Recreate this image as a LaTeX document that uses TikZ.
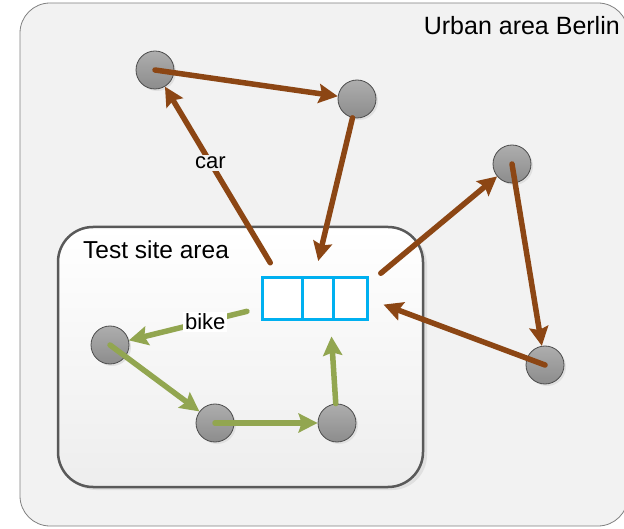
\documentclass[tikz,border=0pt]{standalone}
\usepackage{fontspec}
\setmainfont{Liberation Sans}
\usepackage{tikz}
\usetikzlibrary{arrows.meta,shadows}

\definecolor{carbrown}{RGB}{140,70,20}
\definecolor{bikegreen}{RGB}{146,166,80}
\definecolor{hubblue}{RGB}{0,176,240}
\definecolor{areagray}{RGB}{242,242,242}

\begin{document}
\begin{tikzpicture}[
      x=1pt, y=-1pt,
      place/.style={circle, minimum size=38pt, inner sep=0pt, draw=black!70, line width=0.8pt,
                    top color=black!32, bottom color=black!45, drop shadow={shadow xshift=2pt, shadow yshift=-2pt, fill=black!12, opacity=1}},  % grey stops
      trip/.style={line width=5.5pt, line cap=round, -{Stealth[length=19pt,width=19pt,inset=3pt]}},
      car/.style={trip, draw=carbrown, fill=carbrown},
      bike/.style={trip, draw=bikegreen, fill=bikegreen},
      tag/.style={font=\fontsize{22}{24}\selectfont, inner sep=2pt}
    ]
    \useasboundingbox (0,0) rectangle (624,529);
    % urban area
    \begin{scope}
        \clip (0,0) rectangle (624,529);
        \draw[black!50, fill=areagray, line width=0.8pt, rounded corners=30pt] (20,3) rectangle (628,526);
    \end{scope}
    \node[anchor=base east, font=\fontsize{25}{27}\selectfont, inner sep=0pt] (urban) at (620,35) {Urban area Berlin};
    % test site
    \fill[black!12, rounded corners=35pt] (61,230) rectangle (427,490);
    \draw[black!65, line width=2.5pt, rounded corners=35pt, top color=white, bottom color=black!7] (58,227) rectangle (423,487);
    \node[anchor=base west, font=\fontsize{24.5}{26}\selectfont, inner sep=0pt] (test) at (83,259) {Test site area};
    % hub
    \node[draw=hubblue, line width=3pt, fill=white, minimum width=105pt, minimum height=42pt, inner sep=0pt] (box) at (314.5,299) {};
    \draw[hubblue, line width=3pt] ([xshift=42pt]box.north west) -- ([xshift=42pt]box.south west);
    \draw[hubblue, line width=3pt] ([xshift=73pt]box.north west) -- ([xshift=73pt]box.south west);
    % stops
    \node[place] (A) at (155,70) {};
    \node[place] (B) at (357,99) {};
    \node[place] (C) at (512,164) {};
    \node[place] (D) at (545,365) {};
    \node[place] (E) at (110,345) {};
    \node[place] (F) at (215,423) {};
    \node[place] (G) at (337,423) {};
    % car trips
    \draw[car] (A.center) -- (B);
    \draw[car, shorten >=16pt] (B) -- (box.north);
    \draw[car, shorten <=16pt] ([xshift=18pt]box.north west) -- node[tag, fill=areagray, pos=0.6] (cartag) {car} (A);
    \draw[car, shorten <=16pt] ([yshift=-7pt]box.north east) -- (C);
    \draw[car] (C.center) -- (D);
    \draw[car, shorten >=16pt] (D.center) -- (box.east);
    % bike trips
    \draw[bike, shorten <=14pt] ([yshift=-9pt]box.west) -- node[tag, fill=white, pos=0.42] (biketag) {bike} (E);
    \draw[bike] (E.center) -- (F);
    \draw[bike] (F.center) -- (G);
    \draw[bike, shorten >=15pt] (G) -- ([xshift=16pt]box.south);
\end{tikzpicture}
\end{document}
